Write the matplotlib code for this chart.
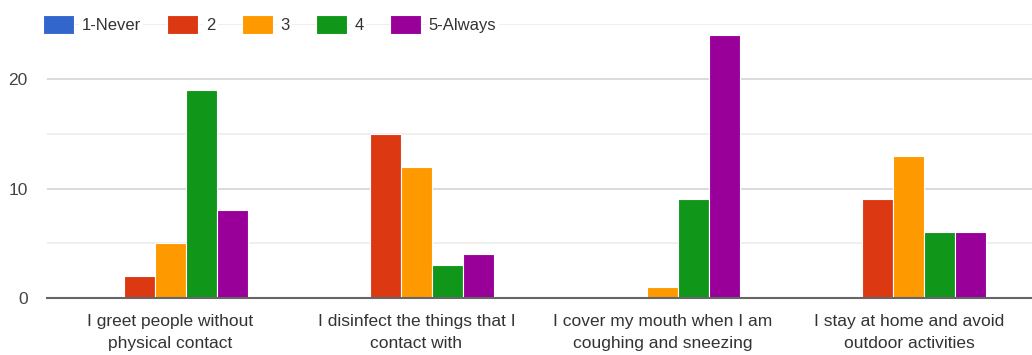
import matplotlib
matplotlib.use("Agg")
import matplotlib.pyplot as plt
import numpy as np

categories = ["I greet people without\nphysical contact",
              "I disinfect the things that I\ncontact with",
              "I cover my mouth when I am\ncoughing and sneezing",
              "I stay at home and avoid\noutdoor activities"]
series_names = ["1-Never", "2", "3", "4", "5-Always"]
never = [0, 0, 0, 0]
two = [2, 15, 0, 9]
three = [5, 12, 1, 13]
four = [19, 3, 9, 6]
always = [8, 4, 24, 6]
colors = ["#3366cc", "#dc3912", "#ff9900", "#109618", "#990099"]

plt.rcParams['font.family'] = ['Liberation Sans', 'DejaVu Sans']

fig = plt.figure(figsize=(10.32, 3.55), dpi=100)
ax = fig.add_axes([47/1032, 1-298/355, (1032-47)/1032, (298-24.3)/355])

x = np.arange(len(categories))
w = 0.126
data = [never, two, three, four, always]
for i, (name, vals, c) in enumerate(zip(series_names, data, colors)):
    ax.bar(x + (i - 2) * w, vals, width=w, color=c, edgecolor="white",
           linewidth=0.8, label=name, zorder=3)

ax.set_xlim(-0.5, 3.5)
ax.set_ylim(0, 25)
ax.set_yticks([0, 10, 20])
ax.set_yticks([5, 15, 25], minor=True)
ax.grid(axis='y', which='major', color='#d4d4d4', linewidth=1.2, zorder=0)
ax.grid(axis='y', which='minor', color='#ececec', linewidth=1.2, zorder=0)
for s in ['top', 'right', 'left']:
    ax.spines[s].set_visible(False)
ax.spines['bottom'].set_color('#666666')
ax.spines['bottom'].set_linewidth(1.5)
ax.spines['bottom'].set_zorder(4)
ax.tick_params(axis='y', which='both', length=0, labelsize=12.5, labelcolor='#444444', pad=14)
ax.tick_params(axis='x', length=0, labelsize=12.5, labelcolor='#333333', pad=11.5)
ax.set_xticks(x)
ax.set_xticklabels(categories, linespacing=1.6)

leg = ax.legend(loc='center left', bbox_to_anchor=(-0.004, 1.0), ncol=5, frameon=False,
                fontsize=12, handlelength=1.85, handleheight=1.35, columnspacing=1.6,
                handletextpad=0.45, borderaxespad=0, borderpad=0, labelcolor='#333333')
for t in leg.get_texts():
    t.set_bbox(dict(facecolor='white', edgecolor='none', pad=2))

fig.savefig("out.png", dpi=100)
